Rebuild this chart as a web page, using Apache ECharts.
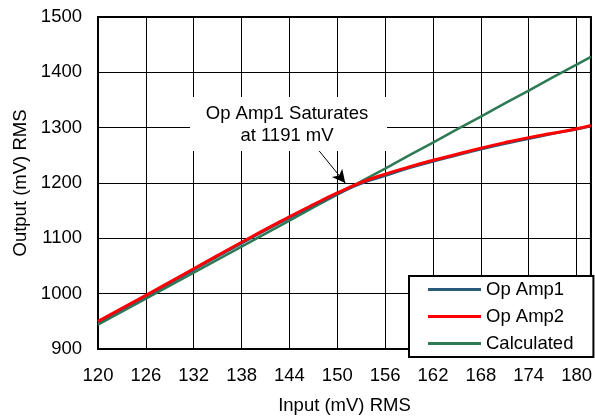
<!DOCTYPE html>
<html>
<head>
<meta charset="utf-8">
<script src="https://cdn.jsdelivr.net/npm/echarts@6/dist/echarts.min.js"></script>
<style>
  html, body { margin: 0; padding: 0; background: #fff; }
  #chart { width: 595px; height: 420px; }
</style>
</head>
<body>
<div id="chart"></div>
<script>
// Input level (mV RMS) for each sample
const inputs = [120, 126, 132, 138, 144, 147, 150, 153, 156, 159, 162, 165, 168, 171, 174, 177, 180, 181.8];
// Measured output (mV RMS) of each op amp
const opAmp1 = [948, 995, 1043, 1091, 1137, 1159, 1180, 1199, 1213, 1227, 1239, 1250, 1261, 1271, 1280, 1289, 1297, 1303];
const opAmp2 = [950, 997, 1045, 1093, 1139, 1161, 1182, 1201, 1216, 1229, 1241, 1252, 1263, 1273, 1282, 1290, 1298, 1304];
// Ideal linear output
const calculated = [944, 991, 1038, 1085, 1132, 1156, 1179, 1203, 1226, 1250, 1273, 1297, 1320, 1344, 1367, 1391, 1414, 1428];

// Tick labels along both axes
const xTicks = [120, 126, 132, 138, 144, 150, 156, 162, 168, 174, 180];
const yTicks = [900, 1000, 1100, 1200, 1300, 1400, 1500];

// Saturation callout: arrow from the note toward the knee of the curve
const calloutText = 'Op Amp1 Saturates\nat 1191 mV';
const arrowFrom = [147.5, 1262];
const arrowTo = [151, 1200];

const FONT = '"Liberation Sans", Arial, sans-serif';
const FS = 18.5;
const pairs = (ys) => inputs.map((x, i) => [x, ys[i]]);

const chart = echarts.init(document.getElementById('chart'), null, { renderer: 'canvas' });

chart.setOption({
  backgroundColor: '#fff',
  animation: false,
  textStyle: { fontFamily: FONT },
  grid: {
    left: 98, right: 2, top: 17, bottom: 66,
    show: true, borderColor: '#000', borderWidth: 2, backgroundColor: 'transparent'
  },
  xAxis: {
    type: 'value',
    min: xTicks[0], max: 181.8, interval: 6,
    name: 'Input (mV) RMS', nameLocation: 'middle', nameGap: 47,
    nameTextStyle: { fontSize: FS, color: '#000', fontFamily: FONT },
    axisLine: { show: true, onZero: false, lineStyle: { color: '#000', width: 2 } },
    axisTick: { show: false },
    axisLabel: {
      fontSize: FS, color: '#000', margin: 17, fontFamily: FONT,
      showMaxLabel: false,
      formatter: (v) => (xTicks.indexOf(v) >= 0 ? String(v) : '')
    },
    splitLine: { show: true, lineStyle: { color: '#000', width: 1 } }
  },
  yAxis: {
    type: 'value',
    min: yTicks[0], max: yTicks[yTicks.length - 1], interval: 100,
    name: 'Output (mV) RMS', nameLocation: 'middle', nameGap: 62,
    nameTextStyle: { fontSize: FS, color: '#000', fontFamily: FONT },
    axisLine: { show: true, onZero: false, lineStyle: { color: '#000', width: 2 } },
    axisTick: { show: false },
    axisLabel: {
      fontSize: FS, color: '#000', margin: 16, fontFamily: FONT,
      formatter: (v) => String(v)
    },
    splitLine: { show: true, lineStyle: { color: '#000', width: 1 } }
  },
  legend: {
    data: ['Op Amp1', 'Op Amp2', 'Calculated'],
    orient: 'vertical',
    left: 409, top: 276,
    padding: [4, 20, 4, 19],
    itemGap: 8,
    itemWidth: 53, itemHeight: 3,
    icon: 'rect',
    backgroundColor: '#fff',
    borderColor: '#000', borderWidth: 2,
    textStyle: { fontSize: FS, color: '#000', lineHeight: 18, fontFamily: FONT }
  },
  series: [
    {
      name: 'Calculated', type: 'line', z: 2,
      data: pairs(calculated), symbol: 'none',
      lineStyle: { color: '#2E7A55', width: 2.5 }, itemStyle: { color: '#2E7A55' },
      markLine: {
        silent: true, symbol: ['none', 'arrow'], symbolSize: [10, 13],
        label: { show: false },
        lineStyle: { color: '#000', width: 1, type: 'solid' },
        data: [[{ coord: arrowFrom }, { coord: arrowTo }]]
      }
    },
    {
      name: 'Op Amp1', type: 'line', z: 3, smooth: true,
      data: pairs(opAmp1), symbol: 'none',
      lineStyle: { color: '#2B5A7B', width: 2.5 }, itemStyle: { color: '#2B5A7B' }
    },
    {
      name: 'Op Amp2', type: 'line', z: 4, smooth: true,
      data: pairs(opAmp2), symbol: 'none',
      lineStyle: { color: '#FF0000', width: 3 }, itemStyle: { color: '#FF0000' }
    }
  ],
  graphic: [
    {
      type: 'rect', z: 50,
      shape: { x: 190, y: 97, width: 197, height: 54 },
      style: { fill: '#fff' }
    },
    {
      type: 'text', z: 51,
      x: 287, y: 125,
      style: {
        text: calloutText, font: FS + 'px ' + FONT, fill: '#000',
        align: 'center', verticalAlign: 'middle', lineHeight: 22
      }
    }
  ]
});
</script>
</body>
</html>
